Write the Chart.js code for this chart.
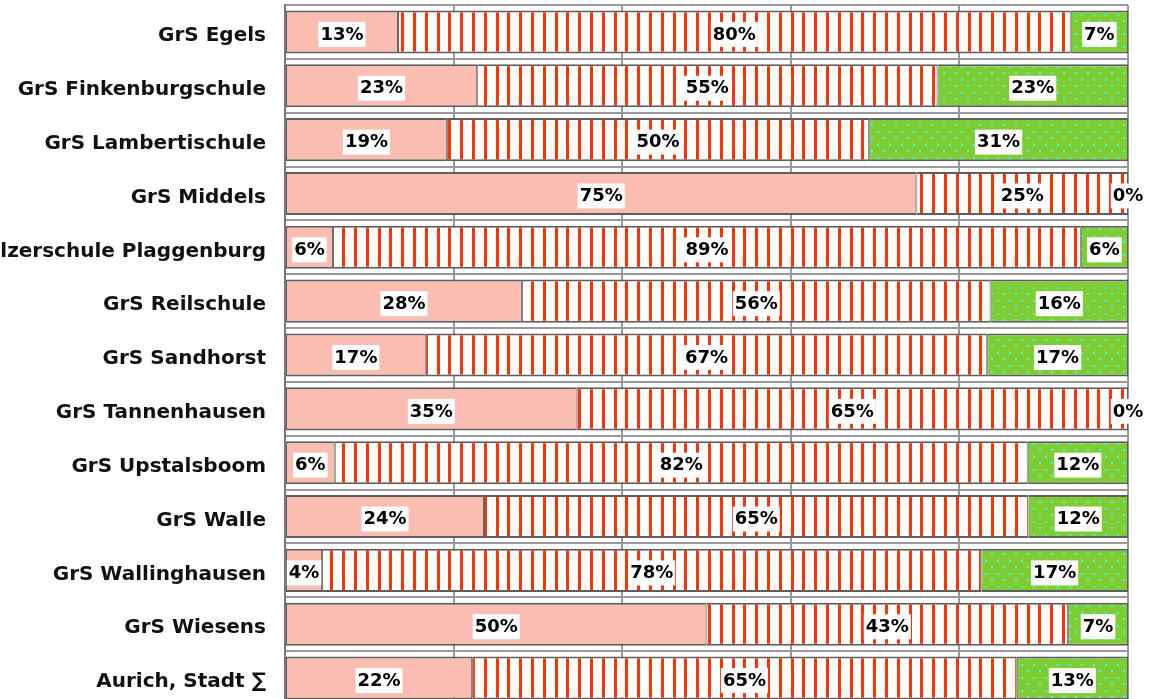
<!DOCTYPE html>
<html>
<head>
<meta charset="utf-8">
<script src="https://cdn.jsdelivr.net/npm/chart.js@4.4.1/dist/chart.umd.min.js"></script>
<style>
  html, body { margin: 0; padding: 0; background: #ffffff; overflow: hidden; }
  #wrap { position: relative; width: 1158px; height: 706px; }
</style>
</head>
<body>
<div id="wrap"><canvas id="c"></canvas></div>
<script>
const schools = [
  'GrS Egels',
  'GrS Finkenburgschule',
  'GrS Lambertischule',
  'GrS Middels',
  'GrS Pelzerschule Plaggenburg',
  'GrS Reilschule',
  'GrS Sandhorst',
  'GrS Tannenhausen',
  'GrS Upstalsboom',
  'GrS Walle',
  'GrS Wallinghausen',
  'GrS Wiesens',
  'Aurich, Stadt \u2211'
];
const pinkShare   = [13.4, 22.8, 19.2, 74.9,  5.7, 28.1, 16.7, 34.6,  5.9, 23.6,  4.4, 50.0, 22.2];
const stripeShare = [79.8, 54.6, 50.1, 25.1, 88.7, 55.6, 66.6, 65.4, 82.2, 64.6, 78.2, 42.9, 64.6];
const greenShare  = [ 6.8, 22.6, 30.7,  0.0,  5.6, 16.3, 16.7,  0.0, 11.9, 11.8, 17.4,  7.1, 13.2];
const xTicks = [0, 20, 40, 60, 80, 100];

function stripePattern() {
  const cv = document.createElement('canvas');
  cv.width = 59; cv.height = 4;
  const g = cv.getContext('2d');
  g.fillStyle = '#ffffff'; g.fillRect(0, 0, 59, 4);
  g.fillStyle = '#ff3300';
  [0, 12, 24, 35, 47].forEach(x => g.fillRect(x, 0, 3, 4));
  return g.createPattern(cv, 'repeat');
}
function dotPattern() {
  const cv = document.createElement('canvas');
  cv.width = 12; cv.height = 13;
  const g = cv.getContext('2d');
  g.fillStyle = '#80cc33'; g.fillRect(0, 0, 12, 13);
  g.fillStyle = '#33ffee';
  g.fillRect(1, 1, 2, 2);
  g.fillRect(7, 7, 2, 2);
  return g.createPattern(cv, 'repeat');
}

const labelPlugin = {
  id: 'segLabels',
  afterDatasetsDraw(chart) {
    const ctx = chart.ctx;
    ctx.save();
    ctx.font = 'bold 18px "DejaVu Sans"';
    ctx.textAlign = 'center';
    ctx.textBaseline = 'middle';
    chart.data.datasets.forEach((ds, i) => {
      const meta = chart.getDatasetMeta(i);
      meta.data.forEach((bar, j) => {
        const v = ds.data[j];
        const txt = Math.round(v) + '%';
        const cx = (bar.x + bar.base) / 2;
        const cy = bar.y + 2;
        const w = ctx.measureText(txt).width;
        ctx.fillStyle = '#ffffff';
        ctx.fillRect(cx - w / 2 - 2, cy - 12, w + 4, 25);
        ctx.fillStyle = '#000000';
        ctx.fillText(txt, cx, cy + 1);
      });
    });
    ctx.restore();
  }
};

const border = { top: 2, bottom: 2, left: 1, right: 1 };
new Chart(document.getElementById('c'), {
  type: 'bar',
  data: {
    labels: schools,
    datasets: [
      { data: pinkShare, backgroundColor: '#f9bdb2', borderColor: '#5e5e5e', borderWidth: border, borderSkipped: false },
      { data: stripeShare, backgroundColor: stripePattern(), borderColor: '#5e5e5e', borderWidth: border, borderSkipped: false },
      { data: greenShare, backgroundColor: dotPattern(), borderColor: '#5e5e5e', borderWidth: border, borderSkipped: false }
    ]
  },
  options: {
    indexAxis: 'y',
    responsive: true,
    maintainAspectRatio: false,
    animation: false,
    layout: { padding: { top: 5, right: 30, bottom: 1, left: 0 } },
    datasets: { bar: { categoryPercentage: 1.0, barPercentage: 0.8 } },
    plugins: { legend: { display: false }, tooltip: { enabled: false } },
    scales: {
      x: {
        stacked: true, min: 0, max: 100,
        afterBuildTicks: s => { s.ticks = xTicks.map(v => ({ value: v })); },
        ticks: { display: false },
        grid: { color: '#999999', lineWidth: 2, drawTicks: false },
        border: { display: true, color: '#777777', width: 2 },
        afterFit: s => { s.height = 0; s.paddingLeft = 0; s.paddingRight = 0; }
      },
      y: {
        stacked: true,
        ticks: {
          color: '#111111',
          font: { family: '"DejaVu Sans"', size: 20, weight: 'bold', lineHeight: 0.4 },
          padding: 19, crossAlign: 'near',
          callback: (v, i) => ['', schools[i]]
        },
        grid: { color: '#999999', lineWidth: 2, drawTicks: false, offset: true },
        border: { display: true, color: '#777777', width: 2 },
        afterFit: s => { s.width = 285; s.paddingTop = 0; s.paddingBottom = 0; }
      }
    }
  },
  plugins: [labelPlugin]
});
</script>
</body>
</html>
